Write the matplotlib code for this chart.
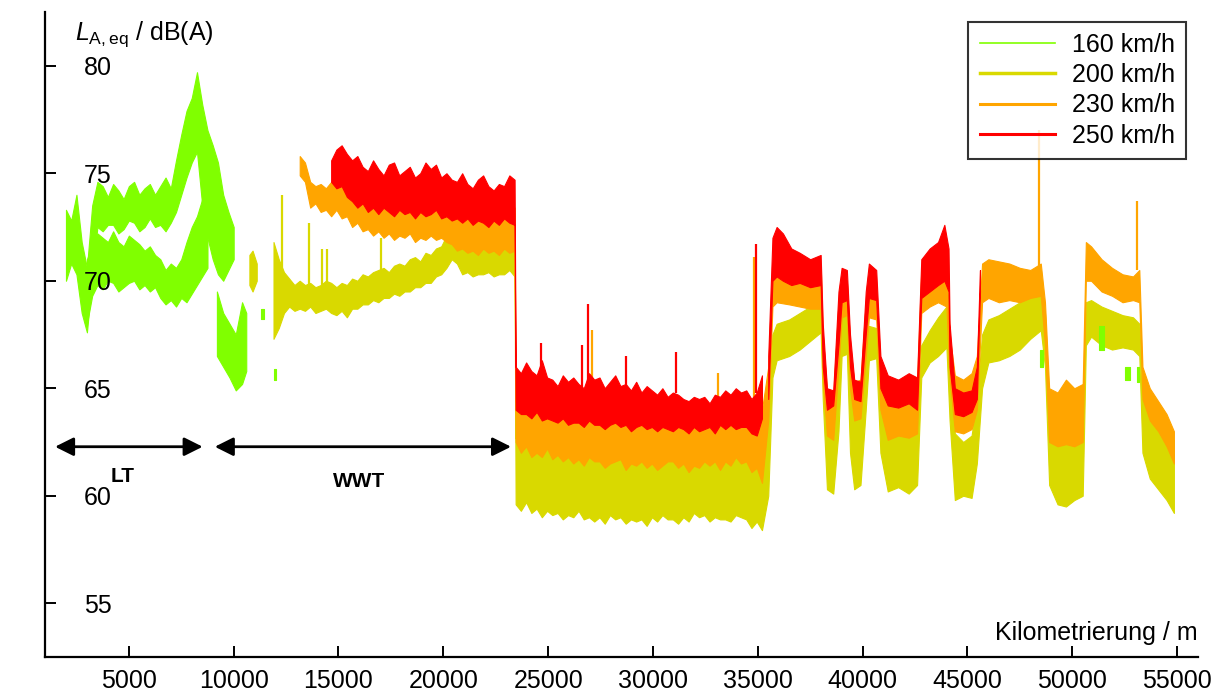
import numpy as np
import matplotlib.pyplot as plt
from matplotlib.lines import Line2D

plt.rcParams['font.family'] = ['Liberation Sans', 'DejaVu Sans']
plt.rcParams['mathtext.fontset'] = 'custom'
plt.rcParams['mathtext.rm'] = 'Liberation Sans'
plt.rcParams['mathtext.it'] = 'Liberation Sans:italic'

labels = ['160 km/h', '200 km/h', '230 km/h', '250 km/h']
colors = ['#80ff00', '#d9d900', '#ffa500', '#ff0000']

# kilometre grids (m) of the read-off envelope values
km160a = np.arange(2000, 10001, 250)
km160b = np.arange(3000, 8751, 250)
km200_wwt = np.arange(11900, 23401, 250)
km230_wwt = np.arange(13150, 23401, 250)
km250_wwt = np.arange(14650, 23401, 250)
km_low = np.arange(23450, 35201, 250)
km_east = [35500, 35700, 35900, 36500, 37000, 37500, 38000, 38100, 38300, 38600, 38850, 39000, 39250,
           39400, 39600, 39900, 40150, 40300, 40650, 40850, 41200, 41700, 42200, 42600, 42800, 43200,
           43600, 44000, 44150, 44400, 44800, 45200, 45450, 45700, 46000, 46500, 47000, 47500, 48000,
           48500, 48700, 48900, 49300, 49700, 50100, 50500, 50650, 50900, 51400, 51900, 52400, 52900,
           53200, 53350, 53700, 54100, 54500, 54850]

# --- 160 km/h (lower / upper envelope in dB(A)) ---
lo160a = [70.0, 70.8, 70.3, 68.5, 67.6, 70.2, 72.5, 72.3, 72.6, 72.6, 72.2, 72.4, 72.8, 72.7, 72.3, 72.5,
          72.9, 72.5, 72.6, 72.3, 72.7, 73.2, 74.0, 74.8, 75.5, 76.0, 73.5, 72.0, 71.0, 70.3, 70.0, 70.5, 71.0]
hi160a = [73.3, 72.8, 74.0, 71.8, 70.6, 73.5, 74.6, 74.4, 73.9, 74.5, 74.2, 73.8, 74.4, 74.6, 74.0, 74.3,
          74.5, 74.0, 74.4, 74.8, 74.3, 75.6, 76.8, 77.9, 78.5, 79.7, 78.2, 77.0, 76.3, 75.5, 74.0, 73.2, 72.5]
lo160b = [68.0, 69.3, 69.8, 69.6, 70.0, 69.9, 69.5, 69.7, 69.9, 70.0, 69.6, 69.8,
          69.5, 69.7, 69.2, 68.9, 69.1, 68.8, 69.2, 69.0, 69.4, 69.8, 70.2, 70.6]
hi160b = [71.0, 71.6, 72.2, 72.0, 71.8, 72.3, 71.8, 71.6, 72.1, 71.9, 71.7, 71.4,
          71.6, 71.2, 71.0, 70.5, 70.8, 70.6, 71.0, 71.8, 72.5, 73.0, 73.8, 73.5]
km160c = [9200, 9500, 9800, 10100, 10400, 10600]
lo160c = [66.5, 66.0, 65.5, 64.9, 65.2, 65.8]
hi160c = [69.5, 68.5, 68.0, 67.5, 69.0, 68.5]
bit160_x0 = [11300, 11900, 48450, 51300, 52500, 53080]
bit160_x1 = [11450, 12000, 48600, 51500, 52750, 53200]
bit160_lo = [68.2, 65.4, 66.0, 66.8, 65.4, 65.3]
bit160_hi = [68.7, 65.9, 66.8, 67.9, 66.0, 66.0]

# --- 200 km/h ---
km200a = [10750, 10900, 11100]
lo200a = [69.8, 69.5, 70.0]
hi200a = [71.2, 71.4, 70.8]
lo200_wwt = [67.3, 67.8, 68.5, 68.8, 68.6, 68.7, 68.6, 68.8, 68.5, 68.6, 68.7, 68.5,
             68.4, 68.6, 68.3, 68.7, 68.7, 68.9, 68.9, 69.1, 69.0, 69.2, 69.2, 69.4,
             69.3, 69.5, 69.5, 69.7, 69.7, 69.9, 69.9, 70.2, 70.3, 70.6, 71.0, 70.8,
             70.3, 70.4, 70.2, 70.3, 70.3, 70.4, 70.2, 70.3, 70.3, 70.5, 70.2]
hi200_wwt = [71.8, 71.0, 70.4, 70.1, 69.8, 70.0, 69.8, 69.9, 69.7, 69.8, 70.0, 69.9,
             69.7, 69.9, 69.8, 70.1, 70.0, 70.3, 70.2, 70.4, 70.5, 70.6, 70.4, 70.7,
             70.8, 70.7, 71.0, 71.1, 70.9, 71.3, 71.2, 71.5, 71.6, 72.1, 72.7, 72.4,
             71.8, 71.9, 71.7, 71.8, 71.6, 71.9, 71.7, 71.8, 71.6, 72.0, 71.6]
lo200_low = [59.6, 59.3, 59.7, 59.2, 59.4, 59.0, 59.3, 59.1, 59.2, 58.9, 59.1, 59.0, 59.3, 58.9, 59.0, 58.8,
             59.0, 58.7, 59.1, 58.9, 59.0, 58.7, 58.9, 58.8, 58.9, 58.6, 59.0, 58.8, 59.1, 58.9, 58.9, 58.7,
             59.0, 58.8, 59.2, 59.0, 59.1, 58.8, 59.0, 58.9, 58.9, 58.8, 59.1, 59.0, 58.9, 58.5, 58.8, 58.4]
hi200_low = [62.7, 62.3, 62.5, 62.0, 62.2, 62.1, 62.4, 61.9, 62.2, 61.8, 62.0, 61.7, 61.9, 61.6, 62.1, 61.8,
             61.9, 61.5, 61.7, 61.8, 62.0, 61.4, 61.7, 61.6, 61.9, 61.5, 61.7, 61.4, 61.6, 61.8, 61.9, 61.5,
             61.7, 61.3, 61.6, 61.5, 61.9, 61.6, 61.8, 61.4, 61.9, 61.6, 62.0, 61.7, 61.8, 61.3, 61.5, 60.8]
lo200_east = [60.0, 65.5, 66.3, 66.5, 66.8, 67.2, 67.6, 64.5, 60.3, 60.1, 63.0, 66.5, 66.6,
              62.0, 60.3, 60.5, 64.0, 66.3, 66.4, 62.0, 60.2, 60.4, 60.1, 60.5, 65.5, 66.2,
              66.5, 66.9, 63.5, 59.8, 60.0, 59.9, 61.5, 65.0, 66.2, 66.3, 66.5, 66.8, 67.3,
              67.7, 66.0, 60.5, 59.6, 59.5, 59.8, 60.0, 67.0, 67.4, 67.0, 66.8, 66.9, 66.8,
              66.5, 62.0, 60.8, 60.3, 59.8, 59.2]
hi200_east = [64.0, 67.5, 68.0, 68.2, 68.5, 68.8, 69.3, 67.0, 64.5, 64.0, 66.8, 68.7, 68.5,
              65.5, 64.5, 64.8, 67.0, 67.9, 67.8, 64.5, 63.8, 63.5, 63.9, 63.7, 67.0, 67.7,
              68.3, 68.8, 66.0, 62.9, 62.5, 62.8, 64.5, 67.5, 68.2, 68.4, 68.7, 69.0, 69.3,
              69.6, 68.5, 64.0, 63.8, 63.5, 64.1, 63.9, 69.0, 69.1, 68.8, 68.6, 68.4, 68.3,
              68.0, 64.5, 63.6, 63.0, 62.5, 62.6]
spk200_x = [12310, 13570, 14190, 14470, 17040]
spk200_lo = [69.5, 69.5, 69.5, 69.5, 70.0]
spk200_hi = [74.0, 72.7, 71.5, 71.5, 72.0]

# --- 230 km/h ---
lo230_wwt = [74.9, 74.6, 73.4, 73.6, 73.2, 73.3, 73.0, 73.3, 72.9, 73.0, 72.5, 72.7,
             72.3, 72.4, 72.1, 72.3, 72.0, 72.2, 71.9, 72.1, 72.0, 72.2, 71.8, 72.0,
             71.9, 72.1, 71.9, 72.0, 71.8, 71.7, 71.4, 71.5, 71.3, 71.4, 71.2, 71.5,
             71.3, 71.4, 71.2, 71.5, 71.3, 71.4]
hi230_wwt = [75.8, 75.5, 74.6, 74.4, 74.5, 74.3, 74.6, 74.4, 74.5, 74.0, 74.0, 73.8,
             73.9, 73.6, 73.7, 73.6, 73.5, 73.7, 73.5, 73.4, 73.6, 73.5, 73.4, 73.6,
             73.5, 73.7, 73.8, 73.6, 73.9, 73.6, 73.5, 73.3, 73.4, 73.2, 73.3, 73.2,
             73.4, 73.1, 73.5, 73.3, 73.6, 73.4]
lo230_low = [62.5, 62.0, 62.3, 61.8, 62.0, 61.8, 62.2, 61.7, 61.9, 61.6, 61.8, 61.5, 61.7, 61.4, 61.8, 61.6,
             61.6, 61.3, 61.5, 61.6, 61.7, 61.2, 61.5, 61.4, 61.6, 61.3, 61.5, 61.2, 61.4, 61.6, 61.6, 61.3,
             61.5, 61.1, 61.4, 61.3, 61.6, 61.4, 61.6, 61.2, 61.6, 61.4, 61.8, 61.5, 61.6, 61.1, 61.3, 60.6]
hi230_low = [64.4, 64.1, 64.2, 63.9, 64.3, 63.8, 64.0, 63.9, 63.7, 64.0, 63.6, 63.8, 63.7, 63.5, 63.9, 63.6,
             63.7, 63.4, 63.6, 63.8, 63.5, 63.6, 63.3, 63.5, 63.6, 63.4, 63.5, 63.3, 63.6, 63.4, 63.3, 63.5,
             63.4, 63.2, 63.5, 63.3, 63.4, 63.5, 63.2, 63.6, 63.4, 63.7, 63.4, 63.5, 63.6, 63.3, 63.5, 64.0]
lo230_east = [63.5, 68.8, 69.0, 68.9, 68.8, 68.7, 68.7, 65.5, 62.8, 62.6, 66.0, 68.3, 68.4,
              65.0, 63.5, 63.6, 66.5, 68.3, 68.2, 64.0, 62.6, 62.8, 62.7, 62.9, 68.5, 68.8,
              69.0, 68.8, 65.5, 63.0, 62.9, 63.1, 64.0, 69.0, 69.2, 69.0, 69.1, 69.0, 69.2,
              69.3, 67.0, 62.5, 62.3, 62.4, 62.3, 62.5, 70.0, 70.0, 69.5, 69.3, 69.0, 69.1,
              69.0, 64.5, 63.5, 63.0, 62.3, 61.5]
hi230_east = [66.0, 70.8, 71.2, 70.9, 70.6, 70.5, 70.8, 67.5, 64.9, 64.7, 69.0, 70.2, 70.0,
              67.0, 65.3, 65.4, 69.0, 69.9, 69.7, 66.0, 65.2, 65.4, 65.0, 65.3, 70.5, 71.0,
              71.2, 71.0, 67.5, 65.6, 65.4, 65.7, 66.5, 70.8, 71.0, 70.9, 70.8, 70.6, 70.5,
              70.8, 69.0, 65.0, 64.8, 65.4, 65.0, 65.2, 71.8, 71.6, 71.0, 70.6, 70.3, 70.2,
              70.5, 66.0, 65.0, 64.4, 63.8, 63.0]
spk230_x = [27100, 33080, 34800, 48400, 53080]
spk230_lo = [63.5, 63.5, 63.5, 70.5, 70.5]
spk230_hi = [67.7, 65.7, 71.1, 77.0, 73.7]

# --- 250 km/h ---
lo250_wwt = [74.6, 74.3, 74.4, 73.9, 73.7, 73.4, 73.6, 73.2, 73.4, 73.1, 73.4, 73.2,
             73.0, 73.3, 73.1, 73.2, 72.9, 73.2, 73.0, 73.1, 73.3, 72.9, 73.0, 72.8,
             72.9, 72.7, 72.9, 72.6, 72.8, 72.7, 72.5, 72.8, 72.6, 72.9, 72.7, 72.6]
hi250_wwt = [75.6, 76.1, 76.3, 75.9, 75.6, 75.8, 75.3, 75.1, 75.6, 75.2, 74.9, 75.4,
             75.5, 74.9, 75.1, 75.3, 74.8, 75.0, 75.5, 75.2, 75.4, 74.8, 75.0, 74.7,
             74.6, 75.0, 74.5, 74.3, 74.7, 74.9, 74.4, 74.2, 74.5, 74.4, 74.9, 74.7]
lo250_low = [64.0, 63.8, 63.8, 63.6, 63.9, 63.5, 63.6, 63.5, 63.4, 63.6, 63.3, 63.4, 63.4, 63.2, 63.5, 63.3,
             63.3, 63.1, 63.3, 63.4, 63.2, 63.3, 63.0, 63.2, 63.3, 63.1, 63.2, 63.0, 63.2, 63.1, 63.0, 63.2,
             63.1, 62.9, 63.2, 63.0, 63.1, 63.2, 62.9, 63.3, 63.1, 63.3, 63.1, 63.2, 63.2, 62.9, 62.8, 63.6]
hi250_low = [66.0, 65.7, 66.2, 65.8, 65.6, 66.3, 65.5, 65.4, 65.1, 65.6, 65.3, 65.5, 65.2, 65.0, 65.7, 65.4,
             65.5, 65.0, 65.3, 65.6, 65.1, 65.2, 64.9, 65.3, 64.8, 65.1, 64.9, 64.7, 65.0, 64.6, 64.8, 64.7,
             64.5, 64.4, 64.6, 64.5, 64.6, 64.3, 64.7, 64.6, 64.9, 64.7, 65.0, 64.8, 64.9, 64.5, 64.8, 65.6]
km250_east = [35500, 35700, 35900, 36200, 36600, 37000, 37500, 38000, 38100, 38300, 38600, 38850,
              39000, 39250, 39400, 39600, 39900, 40150, 40300, 40650, 40850, 41200, 41700, 42200,
              42600, 42800, 43200, 43600, 43900, 44100, 44150, 44400, 44800, 45200, 45450, 45600]
lo250_east = [64.5, 70.0, 70.2, 70.0, 69.8, 69.9, 69.7, 69.8, 66.0, 64.0, 64.2, 67.0,
              69.0, 69.1, 66.0, 64.5, 64.4, 67.5, 69.2, 69.1, 65.0, 64.2, 64.1, 64.3,
              64.0, 69.2, 69.5, 69.8, 70.0, 69.5, 66.0, 63.8, 63.7, 63.9, 64.5, 69.5]
hi250_east = [66.5, 72.0, 72.5, 72.2, 71.5, 71.3, 71.0, 71.2, 68.0, 65.0, 64.9, 69.5,
              70.6, 70.5, 67.5, 65.4, 65.3, 69.5, 70.8, 70.5, 66.5, 65.6, 65.4, 65.7,
              65.5, 71.0, 71.5, 71.8, 72.6, 71.5, 68.0, 65.0, 64.8, 64.9, 66.0, 70.5]
spk250_x = [24660, 26600, 26900, 28700, 31100, 34900]
spk250_lo = [65.0, 65.0, 65.0, 64.8, 64.8, 64.8]
spk250_hi = [67.1, 67.0, 68.9, 66.5, 66.7, 71.7]

fig = plt.figure(figsize=(12.2, 6.95), dpi=100)
ax = fig.add_axes([45/1220, 1-657/695, 1153/1220, 645/695])


def band(x, lo, hi, c, z):
    ax.fill_between(x, lo, hi, color=c, lw=0.8, zorder=z)


# 200 km/h
band(km200a, lo200a, hi200a, colors[1], 2)
band(np.concatenate([km200_wwt, km_low, km_east]),
     np.concatenate([lo200_wwt, lo200_low, lo200_east]),
     np.concatenate([hi200_wwt, hi200_low, hi200_east]), colors[1], 2)
ax.vlines(spk200_x, spk200_lo, spk200_hi, colors=colors[1], lw=1.6, zorder=2)
# 230 km/h
band(np.concatenate([km230_wwt, km_low, km_east]),
     np.concatenate([lo230_wwt, lo230_low, lo230_east]),
     np.concatenate([hi230_wwt, hi230_low, hi230_east]), colors[2], 3)
ax.vlines(spk230_x, spk230_lo, spk230_hi, colors=colors[2], lw=1.6, zorder=3)
# 250 km/h
band(np.concatenate([km250_wwt, km_low]),
     np.concatenate([lo250_wwt, lo250_low]),
     np.concatenate([hi250_wwt, hi250_low]), colors[3], 4)
band(km250_east, lo250_east, hi250_east, colors[3], 4)
ax.vlines(spk250_x, spk250_lo, spk250_hi, colors=colors[3], lw=1.6, zorder=4)
# 160 km/h
band(km160a, lo160a, hi160a, colors[0], 5)
band(km160b, lo160b, hi160b, colors[0], 5)
band(km160c, lo160c, hi160c, colors[0], 5)
for x0, x1, lo, hi in zip(bit160_x0, bit160_x1, bit160_lo, bit160_hi):
    band([x0, x1], [lo, lo], [hi, hi], colors[0], 5)

ax.set_xlim(1000, 56000)
ax.set_ylim(52.5, 82.5)
ax.set_xticks(np.arange(5000, 55001, 5000))
ax.set_yticks(np.arange(55, 81, 5))
ax.spines['top'].set_visible(False)
ax.spines['right'].set_visible(False)
for s in ['left', 'bottom']:
    ax.spines[s].set_linewidth(1.6)
ax.tick_params(axis='both', direction='in', length=8, width=1.4, labelsize=18)
ax.tick_params(axis='x', pad=9)
ax.tick_params(axis='y', pad=-48)
ax.xaxis.set_zorder(8)
ax.yaxis.set_zorder(8)

ax.text(0.026, 0.965, r'$L_{\mathrm{A,eq}}$ / dB(A)', transform=ax.transAxes, fontsize=18,
        ha='left', va='center')
ax.text(1.0, 0.027, 'Kilometrierung / m', transform=ax.transAxes, fontsize=18,
        ha='right', va='baseline')

# section arrows
ax.annotate('', xy=(1480, 62.28), xytext=(8520, 62.28),
            arrowprops=dict(arrowstyle='<|-|>', mutation_scale=28, lw=2, color='black',
                            shrinkA=0, shrinkB=0))
ax.annotate('', xy=(9100, 62.28), xytext=(23230, 62.28),
            arrowprops=dict(arrowstyle='<|-|>', mutation_scale=28, lw=2, color='black',
                            shrinkA=0, shrinkB=0))
ax.text(4710, 60.88, 'LT', fontsize=15, fontweight='bold', ha='center', va='center')
ax.text(16000, 60.65, 'WWT', fontsize=15, fontweight='bold', ha='center', va='center')

handles = [Line2D([], [], color=colors[0], lw=1.2),
           Line2D([], [], color=colors[1], lw=2.5),
           Line2D([], [], color=colors[2], lw=2.2),
           Line2D([], [], color=colors[3], lw=2.2)]
leg = ax.legend(handles, labels, loc='upper right', bbox_to_anchor=(0.99, 0.985),
                borderaxespad=0, fontsize=18, frameon=True, fancybox=False,
                handlelength=3.0, labelspacing=0.25, borderpad=0.45, handletextpad=0.7)
leg.get_frame().set_edgecolor('black')
leg.get_frame().set_linewidth(1.5)
leg.set_zorder(10)

fig.savefig('out.png', dpi=100)
